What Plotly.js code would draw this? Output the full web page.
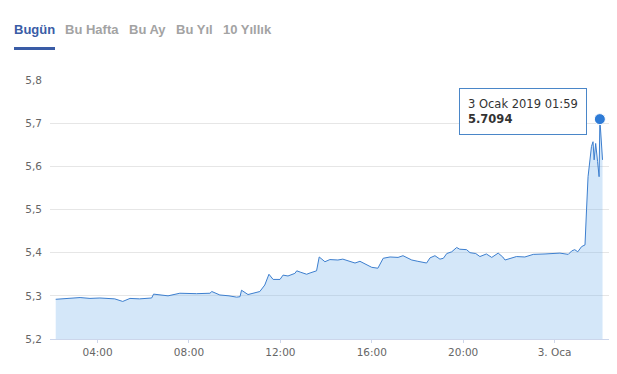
<!DOCTYPE html>
<html>
<head>
<meta charset="utf-8">
<script src="https://cdn.plot.ly/plotly-3.0.1.min.js"></script>
<style>
  html, body { margin: 0; padding: 0; background: #ffffff; }
  #wrap { position: relative; width: 617px; height: 374px; overflow: hidden; }
  #chart { position: absolute; left: 0; top: 0; width: 617px; height: 374px; }
  .tab { position: absolute; top: 22px; font-family: "Liberation Sans", Arial, sans-serif; font-weight: bold; font-size: 13px; line-height: 16px; color: #a3a3a3; white-space: nowrap; }
  .tab.active { color: #3a5ca6; }
  #uline { position: absolute; left: 14px; top: 47px; width: 41px; height: 3px; background: #3a5ca6; }
</style>
</head>
<body>
<div id="wrap">
  <div id="chart"></div>
  <div class="tab active" style="left:14px">Bugün</div>
  <div class="tab" style="left:65px">Bu Hafta</div>
  <div class="tab" style="left:129px">Bu Ay</div>
  <div class="tab" style="left:176px">Bu Yıl</div>
  <div class="tab" style="left:223px">10 Yıllık</div>
  <div id="uline"></div>
</div>
<script>
// Series: intraday rate
var times = [
  '2019-01-02 02:10','2019-01-02 02:34','2019-01-02 03:14','2019-01-02 03:40','2019-01-02 04:06',
  '2019-01-02 04:45','2019-01-02 05:06','2019-01-02 05:25','2019-01-02 05:50','2019-01-02 06:22',
  '2019-01-02 06:27','2019-01-02 07:05','2019-01-02 07:23','2019-01-02 07:36','2019-01-02 08:20',
  '2019-01-02 08:55','2019-01-02 09:00','2019-01-02 09:21','2019-01-02 09:45','2019-01-02 10:05',
  '2019-01-02 10:14','2019-01-02 10:18','2019-01-02 10:35','2019-01-02 11:06','2019-01-02 11:19',
  '2019-01-02 11:30','2019-01-02 11:41','2019-01-02 11:59','2019-01-02 12:07','2019-01-02 12:20',
  '2019-01-02 12:38','2019-01-02 12:43','2019-01-02 12:52','2019-01-02 13:09','2019-01-02 13:18',
  '2019-01-02 13:35','2019-01-02 13:42','2019-01-02 13:57','2019-01-02 14:10','2019-01-02 14:31',
  '2019-01-02 14:44','2019-01-02 14:57','2019-01-02 15:16','2019-01-02 15:29','2019-01-02 15:55',
  '2019-01-02 16:00','2019-01-02 16:16','2019-01-02 16:30','2019-01-02 16:48','2019-01-02 17:09',
  '2019-01-02 17:22','2019-01-02 17:45','2019-01-02 18:01','2019-01-02 18:24','2019-01-02 18:33',
  '2019-01-02 18:46','2019-01-02 18:59','2019-01-02 19:08','2019-01-02 19:17','2019-01-02 19:30',
  '2019-01-02 19:43','2019-01-02 19:51','2019-01-02 20:09','2019-01-02 20:18','2019-01-02 20:33',
  '2019-01-02 20:44','2019-01-02 21:01','2019-01-02 21:15','2019-01-02 21:32','2019-01-02 21:44',
  '2019-01-02 21:50','2019-01-02 22:03','2019-01-02 22:20','2019-01-02 22:42','2019-01-02 23:04',
  '2019-01-02 23:35','2019-01-03 00:14','2019-01-03 00:36','2019-01-03 00:45','2019-01-03 00:53',
  '2019-01-03 01:01','2019-01-03 01:11','2019-01-03 01:20','2019-01-03 01:24','2019-01-03 01:28',
  '2019-01-03 01:37','2019-01-03 01:41','2019-01-03 01:44','2019-01-03 01:48','2019-01-03 01:53',
  '2019-01-03 01:57','2019-01-03 01:59','2019-01-03 02:06'
];
var rates = [
  5.292, 5.293, 5.296, 5.294, 5.295,
  5.293, 5.287, 5.294, 5.293, 5.295,
  5.304, 5.300, 5.304, 5.306, 5.305,
  5.306, 5.310, 5.302, 5.300, 5.297,
  5.298, 5.313, 5.303, 5.310, 5.325,
  5.350, 5.338, 5.338, 5.348, 5.346,
  5.352, 5.358, 5.355, 5.350, 5.353,
  5.358, 5.390, 5.379, 5.384, 5.383,
  5.385, 5.381, 5.376, 5.380, 5.368,
  5.366, 5.364, 5.387, 5.390, 5.389,
  5.393, 5.383, 5.380, 5.376, 5.388,
  5.393, 5.385, 5.387, 5.398, 5.402,
  5.412, 5.408, 5.407, 5.400, 5.398,
  5.391, 5.397, 5.389, 5.399, 5.390,
  5.383, 5.386, 5.391, 5.390, 5.396,
  5.397, 5.399, 5.396, 5.404, 5.407,
  5.402, 5.414, 5.418, 5.499, 5.576,
  5.646, 5.657, 5.615, 5.653, 5.611,
  5.576, 5.7094, 5.615
];
// Highlighted point (tooltip)
var hoverTime = ['2019-01-03 01:59'];
var hoverValue = [5.7094];
var hoverLabel = '3 Ocak 2019 01:59';
// Axis ticks
var xTickVals = ['2019-01-02 04:00','2019-01-02 08:00','2019-01-02 12:00','2019-01-02 16:00','2019-01-02 20:00','2019-01-03 00:00'];
var xTickText = ['04:00','08:00','12:00','16:00','20:00','3. Oca'];
var yTickVals = [5.2, 5.3, 5.4, 5.5, 5.6, 5.7, 5.8];

var traces = [
  {
    x: times, y: rates, type: 'scatter', mode: 'lines',
    line: { color: '#3d7fcf', width: 1 },
    fill: 'tozeroy', fillcolor: 'rgba(124,181,236,0.33)',
    hoverinfo: 'skip'
  },
  {
    x: hoverTime, y: hoverValue, type: 'scatter', mode: 'markers',
    marker: { color: '#2e7bd6', size: 11, line: { color: '#ffffff', width: 1 } },
    hoverinfo: 'skip'
  }
];

var layout = {
  width: 617, height: 374,
  margin: { l: 50, r: 8, t: 80, b: 35 },
  paper_bgcolor: '#ffffff', plot_bgcolor: '#ffffff',
  showlegend: false,
  separators: ',.',
  font: { family: '"DejaVu Sans", sans-serif', size: 10.5, color: '#666666' },
  xaxis: {
    type: 'date',
    range: ['2019-01-02 01:55', '2019-01-03 02:23'],
    tickvals: xTickVals, ticktext: xTickText,
    showgrid: false, zeroline: false,
    showline: true, linecolor: '#ccd6eb', linewidth: 1,
    ticks: 'outside', ticklen: 3, tickcolor: '#ccd6eb',
    tickfont: { color: '#666666', size: 10.5 }
  },
  yaxis: {
    range: [5.2, 5.8],
    tickvals: yTickVals, tickformat: '.1f',
    showgrid: true, gridcolor: '#e6e6e6', gridwidth: 1,
    zeroline: false, showline: false, ticks: '',
    ticklabelstandoff: 7,
    tickfont: { color: '#666666', size: 10.5 }
  },
  annotations: [{
    x: hoverTime[0], y: hoverValue[0], xref: 'x', yref: 'y',
    text: hoverLabel + '<br><b>' + hoverValue[0].toFixed(4) + '</b>',
    showarrow: false, xanchor: 'right', yanchor: 'middle',
    xshift: -13, yshift: 8, align: 'left',
    bgcolor: 'rgba(255,255,255,0.95)', bordercolor: '#4a86c8', borderwidth: 1, borderpad: 8,
    font: { family: '"DejaVu Sans", sans-serif', size: 11.5, color: '#333333' }
  }]
};

Plotly.newPlot('chart', traces, layout, { staticPlot: true, displayModeBar: false });
</script>
</body>
</html>
